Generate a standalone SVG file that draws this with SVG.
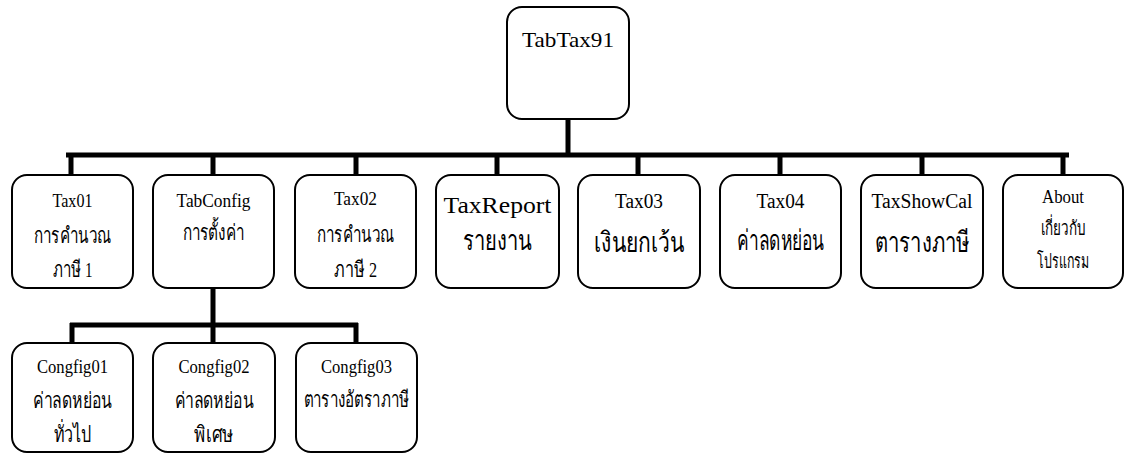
<svg xmlns="http://www.w3.org/2000/svg" width="1125" height="454" viewBox="0 0 1125 454">
<style>
.box{fill:#fff;stroke:#000;stroke-width:2}
.t{font-family:"Liberation Serif","DejaVu Serif",serif;fill:#000;text-anchor:middle}
.s17{font-size:19px}
.s19{font-size:20px}
.s22{font-size:22px}
.s24{font-size:24px}
.th{font-size:22px}
.ths{font-size:20px}
.thb{font-size:28px}
.con{stroke:#000;stroke-width:5;fill:none}
</style>
<rect width="1125" height="454" fill="#fff"/>
<g id="connectors">
<path class="con" d="M568 119V155M66 155H1069M71 153V176M213 153V176M356 153V176M497 153V176M638 153V176M780 153V176M922 153V176M1063 153V176"/>
<path class="con" d="M213 288V325M70 325H358M72 323V344M213 323V344M356 323V344"/>
</g>
<g id="TabTax91">
<rect class="box" x="507" y="7" width="122" height="112" rx="15"/>
<text class="t s22" x="568" y="47" textLength="92" lengthAdjust="spacingAndGlyphs">TabTax91</text>
</g>
<g id="Tax01">
<rect class="box" x="12" y="175" width="121" height="113" rx="15"/>
<text class="t s17" x="72.5" y="207" textLength="40" lengthAdjust="spacingAndGlyphs">Tax01</text>
<text class="t th" x="72.5" y="243" textLength="77" lengthAdjust="spacingAndGlyphs">การคำนวณ</text>
<text class="t th" x="72.5" y="277" textLength="40" lengthAdjust="spacingAndGlyphs">ภาษี 1</text>
</g>
<g id="TabConfig">
<rect class="box" x="153" y="175" width="121" height="113" rx="15"/>
<text class="t s17" x="213.5" y="207" textLength="74" lengthAdjust="spacingAndGlyphs">TabConfig</text>
<text class="t th" x="213.5" y="240" textLength="62" lengthAdjust="spacingAndGlyphs">การตั้งค่า</text>
</g>
<g id="Tax02">
<rect class="box" x="295" y="175" width="121" height="113" rx="15"/>
<text class="t s17" x="355.5" y="205" textLength="43" lengthAdjust="spacingAndGlyphs">Tax02</text>
<text class="t th" x="355.5" y="242" textLength="77" lengthAdjust="spacingAndGlyphs">การคำนวณ</text>
<text class="t th" x="355.5" y="277" textLength="43" lengthAdjust="spacingAndGlyphs">ภาษี 2</text>
</g>
<g id="TaxReport">
<rect class="box" x="436" y="175" width="123" height="113" rx="15"/>
<text class="t s24" x="497.5" y="213" textLength="108" lengthAdjust="spacingAndGlyphs">TaxReport</text>
<text class="t thb" x="497.5" y="250" textLength="69" lengthAdjust="spacingAndGlyphs">รายงาน</text>
</g>
<g id="Tax03">
<rect class="box" x="578" y="175" width="122" height="113" rx="15"/>
<text class="t s19" x="639" y="208" textLength="48" lengthAdjust="spacingAndGlyphs">Tax03</text>
<text class="t thb" x="639" y="252" textLength="91" lengthAdjust="spacingAndGlyphs">เงินยกเว้น</text>
</g>
<g id="Tax04">
<rect class="box" x="720" y="175" width="121" height="113" rx="15"/>
<text class="t s19" x="780.5" y="208" textLength="48" lengthAdjust="spacingAndGlyphs">Tax04</text>
<text class="t thb" x="780.5" y="250" textLength="87" lengthAdjust="spacingAndGlyphs">ค่าลดหย่อน</text>
</g>
<g id="TaxShowCal">
<rect class="box" x="861" y="175" width="122" height="113" rx="15"/>
<text class="t s19" x="922" y="208" textLength="101" lengthAdjust="spacingAndGlyphs">TaxShowCal</text>
<text class="t thb" x="922" y="252" textLength="95" lengthAdjust="spacingAndGlyphs">ตารางภาษี</text>
</g>
<g id="About">
<rect class="box" x="1003" y="175" width="120" height="113" rx="15"/>
<text class="t s17" x="1063" y="203" textLength="42" lengthAdjust="spacingAndGlyphs">About</text>
<text class="t ths" x="1063" y="235" textLength="45" lengthAdjust="spacingAndGlyphs">เกี่ยวกับ</text>
<text class="t ths" x="1063" y="268" textLength="52" lengthAdjust="spacingAndGlyphs">โปรแกรม</text>
</g>
<g id="Congfig01">
<rect class="box" x="12" y="343" width="121" height="109" rx="15"/>
<text class="t s17" x="72.5" y="373" textLength="71" lengthAdjust="spacingAndGlyphs">Congfig01</text>
<text class="t th" x="72.5" y="408" textLength="79" lengthAdjust="spacingAndGlyphs">ค่าลดหย่อน</text>
<text class="t th" x="72.5" y="442" textLength="38" lengthAdjust="spacingAndGlyphs">ทั่วไป</text>
</g>
<g id="Congfig02">
<rect class="box" x="153" y="343" width="122" height="109" rx="15"/>
<text class="t s17" x="214" y="373" textLength="71" lengthAdjust="spacingAndGlyphs">Congfig02</text>
<text class="t th" x="214" y="408" textLength="79" lengthAdjust="spacingAndGlyphs">ค่าลดหย่อน</text>
<text class="t th" x="214" y="442" textLength="40" lengthAdjust="spacingAndGlyphs">พิเศษ</text>
</g>
<g id="Congfig03">
<rect class="box" x="296" y="343" width="121" height="109" rx="15"/>
<text class="t s17" x="356.5" y="373" textLength="71" lengthAdjust="spacingAndGlyphs">Congfig03</text>
<text class="t th" x="356.5" y="407" textLength="106" lengthAdjust="spacingAndGlyphs">ตารางอัตราภาษี</text>
</g>
</svg>
